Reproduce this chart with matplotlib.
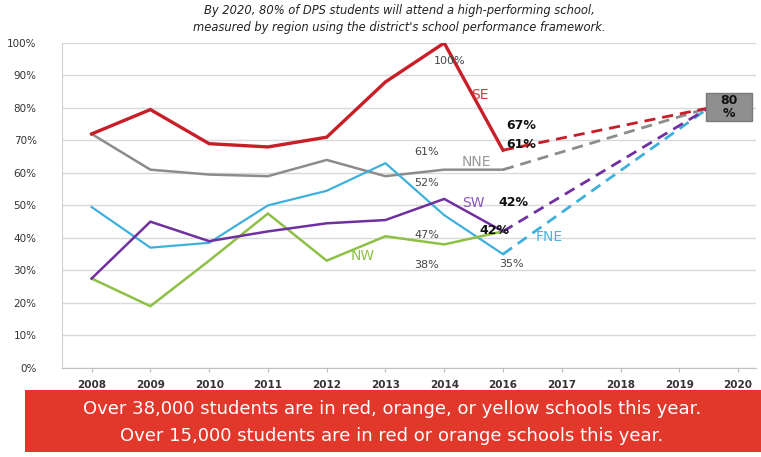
import numpy as np
import matplotlib
matplotlib.use("Agg")
import matplotlib.pyplot as plt
from matplotlib.patches import Rectangle

years = ["2008", "2009", "2010", "2011", "2012", "2013", "2014", "2016",
         "2017", "2018", "2019", "2020"]
actual_years = years[:8]

se = [72, 79.5, 69, 68, 71, 88, 100, 67]
nne = [72, 61, 59.5, 59, 64, 59, 61, 61]
fne = [49.5, 37, 38.5, 50, 54.5, 63, 47, 35]
sw = [27.5, 45, 39, 42, 44.5, 45.5, 52, 42]
nw = [27.5, 19, 33, 47.5, 33, 40.5, 38, 42]
goal_2020 = 80

title_lines = ["By 2020, 80% of DPS students will attend a high-performing school,",
               "measured by region using the district's school performance framework."]
banner_lines = ["Over 38,000 students are in red, orange, or yellow schools this year.",
                "Over 15,000 students are in red or orange schools this year."]

plt.rcParams["font.family"] = ["DejaVu Sans"]

fig = plt.figure(figsize=(7.61, 4.57), dpi=100)
ax = fig.add_axes([0.081, 0.195, 0.912, 0.711])

x = np.arange(len(years))
xa = x[:len(actual_years)]
i14 = years.index("2014")
i16 = years.index("2016")
i20 = years.index("2020")

series = [
    (nne, "#8c8c8c", 1.8),
    (fne, "#3fb0dc", 1.6),
    (nw, "#8dc045", 1.8),
    (sw, "#7030a0", 1.8),
    (se, "#c81e28", 2.4),
]
for vals, col, lw in series:
    ax.plot(xa, vals, color=col, lw=lw, solid_joinstyle="miter", zorder=3)

# projected trajectories to the 2020 goal
for vals, col in [(fne, "#3fb0dc"), (sw, "#7030a0"), (nne, "#8c8c8c"), (se, "#c81e28")]:
    ax.plot([x[i16], x[i20] - 0.5], [vals[-1], goal_2020], color=col, lw=2,
            ls=(0, (4, 2.5)), zorder=3)

ax.add_patch(Rectangle((x[i20] - 0.55, goal_2020 - 4), 0.78, 8.5,
                       facecolor="#8f8f8f", edgecolor="#7a7a7a", zorder=4))
ax.text(x[i20] - 0.16, goal_2020 + 0.3, f"{goal_2020}\n%", ha="center", va="center",
        fontsize=9, fontweight="bold", color="#111111", linespacing=0.95, zorder=5)

# value labels at 2014 / 2016
lab = dict(fontsize=8, color="#444444", ha="center", va="center", zorder=5)
ax.text(x[i14] + 0.1, se[i14] - 5.5, f"{se[i14]:.0f}%", **lab)
ax.text(x[i14] - 0.3, nne[i14] + 5.5, f"{nne[i14]:.0f}%", **lab)
ax.text(x[i14] - 0.3, sw[i14] + 5, f"{sw[i14]:.0f}%", **lab)
ax.text(x[i14] - 0.3, fne[i14] - 6, f"{fne[i14]:.0f}%", **lab)
ax.text(x[i14] - 0.3, nw[i14] - 6.3, f"{nw[i14]:.0f}%", **lab)
ax.text(x[i16] + 0.15, fne[-1] - 3, f"{fne[-1]:.0f}%", **lab)

bold = dict(fontsize=9, fontweight="bold", color="#111111", ha="left", va="center", zorder=5)
ax.text(x[i16] + 0.05, se[-1] + 7.5, f"{se[-1]:.0f}%", **bold)
ax.text(x[i16] + 0.05, nne[-1] + 7.6, f"{nne[-1]:.0f}%", **bold)
ax.text(x[i16] - 0.08, sw[-1] + 8.8, f"{sw[-1]:.0f}%", **bold)
ax.text(x[i16] - 0.4, nw[-1] + 0.2, f"{nw[-1]:.0f}%", **bold)

names = dict(fontsize=10, va="center", zorder=5)
ax.text(x[i14] + 0.45, 84, "SE", color="#d23c3c", **names)
ax.text(x[i14] + 0.3, 63.5, "NNE", color="#999999", **names)
ax.text(x[i14] + 0.3, 50.8, "SW", color="#8a55b8", **names)
ax.text(x[i16] + 0.55, 40.3, "FNE", color="#4ab4e0", **names)
ax.text(years.index("2012") + 0.4, 34.5, "NW", color="#8dc045", **names)

ax.set_xlim(-0.51, 11.3)
ax.set_ylim(0, 100)
ax.set_xticks(x)
ax.set_xticklabels(years, fontsize=7.5, fontweight="bold", color="#333333")
ax.set_yticks(np.arange(0, 101, 10))
ax.set_yticklabels([f"{v}%" for v in range(0, 101, 10)], fontsize=7.5, color="#333333")
ax.tick_params(axis="y", length=0, pad=18)
ax.tick_params(axis="x", length=3, color="#bbbbbb", pad=6)
ax.yaxis.grid(True, color="#d9d9d9", lw=1)
ax.set_axisbelow(True)
for s in ["top", "right"]:
    ax.spines[s].set_visible(False)
ax.spines["left"].set_color("#d0d0d0")
ax.spines["bottom"].set_color("#c0c0c0")

fig.text(0.525, 0.978, title_lines[0], ha="center", va="center", fontsize=8.3,
         style="italic", color="#222222")
fig.text(0.525, 0.94, title_lines[1], ha="center", va="center", fontsize=8.3,
         style="italic", color="#222222")

fig.patches.append(Rectangle((0.033, 0.012), 0.967, 0.135, transform=fig.transFigure,
                             facecolor="#e2382b", edgecolor="none"))
fig.text(0.515, 0.105, banner_lines[0], ha="center", va="center", fontsize=13, color="white")
fig.text(0.515, 0.045, banner_lines[1], ha="center", va="center", fontsize=13, color="white")

fig.savefig("out.png", dpi=100)
